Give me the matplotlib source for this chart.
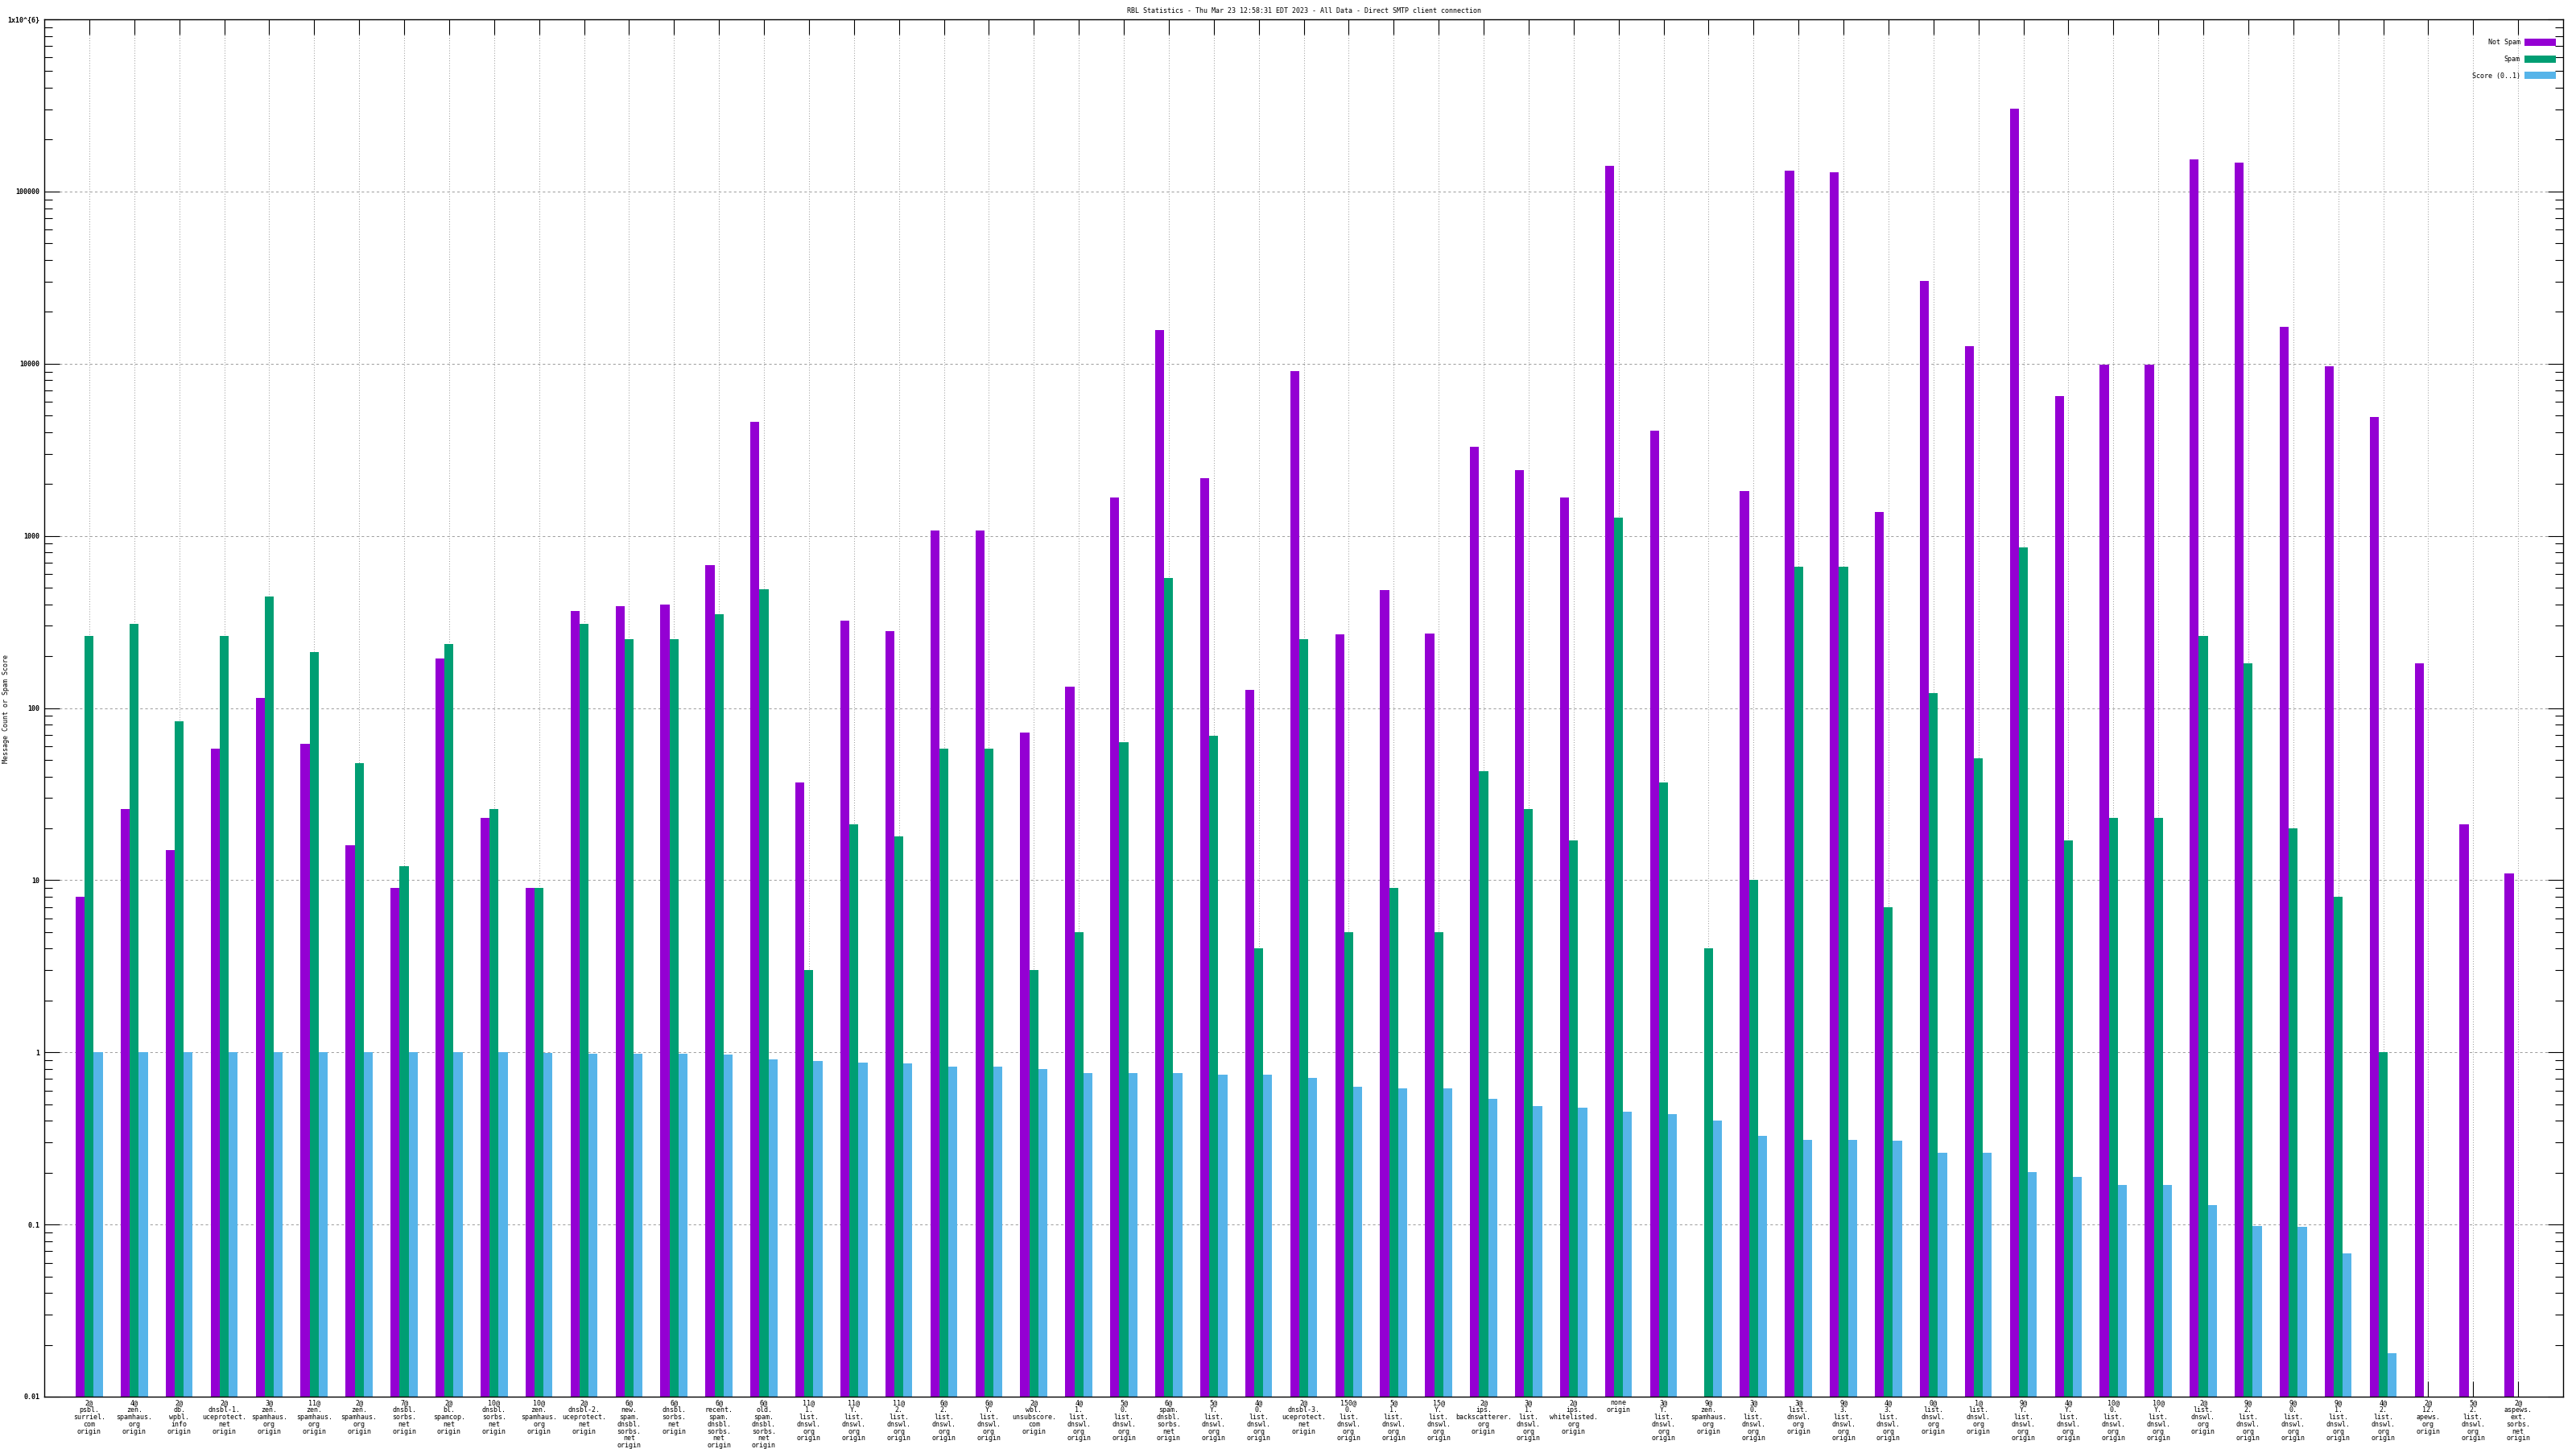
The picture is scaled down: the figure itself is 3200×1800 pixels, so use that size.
import numpy as np
import matplotlib
matplotlib.use("Agg")
import matplotlib.pyplot as plt
from matplotlib.patches import Patch
from matplotlib.ticker import LogLocator, FixedLocator, NullFormatter

plt.rcParams['font.family'] = ['DejaVu Sans Mono', 'DejaVu Sans']

title = "RBL Statistics - Thu Mar 23 12:58:31 EDT 2023 - All Data - Direct SMTP client connection"
ylabel = "Message Count or Spam Score"
series_names = ["Not Spam", "Spam", "Score (0..1)"]
series_colors = ["#9400d3", "#009e73", "#56b4e9"]

categories = [
    "2@\npsbl.\nsurriel.\ncom\norigin",
    "4@\nzen.\nspamhaus.\norg\norigin",
    "2@\ndb.\nwpbl.\ninfo\norigin",
    "2@\ndnsbl-1.\nuceprotect.\nnet\norigin",
    "3@\nzen.\nspamhaus.\norg\norigin",
    "11@\nzen.\nspamhaus.\norg\norigin",
    "2@\nzen.\nspamhaus.\norg\norigin",
    "7@\ndnsbl.\nsorbs.\nnet\norigin",
    "2@\nbl.\nspamcop.\nnet\norigin",
    "10@\ndnsbl.\nsorbs.\nnet\norigin",
    "10@\nzen.\nspamhaus.\norg\norigin",
    "2@\ndnsbl-2.\nuceprotect.\nnet\norigin",
    "6@\nnew.\nspam.\ndnsbl.\nsorbs.\nnet\norigin",
    "6@\ndnsbl.\nsorbs.\nnet\norigin",
    "6@\nrecent.\nspam.\ndnsbl.\nsorbs.\nnet\norigin",
    "6@\nold.\nspam.\ndnsbl.\nsorbs.\nnet\norigin",
    "11@\n1.\nlist.\ndnswl.\norg\norigin",
    "11@\nY.\nlist.\ndnswl.\norg\norigin",
    "11@\n2.\nlist.\ndnswl.\norg\norigin",
    "6@\n2.\nlist.\ndnswl.\norg\norigin",
    "6@\nY.\nlist.\ndnswl.\norg\norigin",
    "2@\nwbl.\nunsubscore.\ncom\norigin",
    "4@\n1.\nlist.\ndnswl.\norg\norigin",
    "5@\n0.\nlist.\ndnswl.\norg\norigin",
    "6@\nspam.\ndnsbl.\nsorbs.\nnet\norigin",
    "5@\nY.\nlist.\ndnswl.\norg\norigin",
    "4@\n0.\nlist.\ndnswl.\norg\norigin",
    "2@\ndnsbl-3.\nuceprotect.\nnet\norigin",
    "150@\n0.\nlist.\ndnswl.\norg\norigin",
    "5@\n1.\nlist.\ndnswl.\norg\norigin",
    "15@\nY.\nlist.\ndnswl.\norg\norigin",
    "2@\nips.\nbackscatterer.\norg\norigin",
    "3@\n1.\nlist.\ndnswl.\norg\norigin",
    "2@\nips.\nwhitelisted.\norg\norigin",
    "none\norigin",
    "3@\nY.\nlist.\ndnswl.\norg\norigin",
    "9@\nzen.\nspamhaus.\norg\norigin",
    "3@\n0.\nlist.\ndnswl.\norg\norigin",
    "3@\nlist.\ndnswl.\norg\norigin",
    "9@\n3.\nlist.\ndnswl.\norg\norigin",
    "4@\n3.\nlist.\ndnswl.\norg\norigin",
    "0@\nlist.\ndnswl.\norg\norigin",
    "1@\nlist.\ndnswl.\norg\norigin",
    "9@\nY.\nlist.\ndnswl.\norg\norigin",
    "4@\nY.\nlist.\ndnswl.\norg\norigin",
    "10@\n0.\nlist.\ndnswl.\norg\norigin",
    "10@\nY.\nlist.\ndnswl.\norg\norigin",
    "2@\nlist.\ndnswl.\norg\norigin",
    "9@\n2.\nlist.\ndnswl.\norg\norigin",
    "9@\n0.\nlist.\ndnswl.\norg\norigin",
    "9@\n1.\nlist.\ndnswl.\norg\norigin",
    "4@\n2.\nlist.\ndnswl.\norg\norigin",
    "2@\n12.\napews.\norg\norigin",
    "5@\n2.\nlist.\ndnswl.\norg\norigin",
    "2@\naspews.\next.\nsorbs.\nnet\norigin",
]

not_spam = [8, 26, 15, 58, 114, 62, 16, 9, 193, 23,
            9, 366, 391, 399, 676, 4570, 37, 321, 281, 1074,
            1074, 72, 133, 1666, 15670, 2170, 127, 9040, 269, 486,
            272, 3290, 2420, 1666, 141000, 4100, 0, 1820, 132000, 129000,
            1370, 30300, 12600, 304000, 6500, 9860, 9860, 154000, 147000, 16400,
            9660, 4890, 181, 21, 11]

spam = [262, 307, 84, 263, 446, 211, 48, 12, 236, 26,
        9, 307, 252, 250, 351, 487, 3, 21, 18, 58,
        58, 3, 5, 63, 568, 69, 4, 250, 5, 9,
        5, 43, 26, 17, 1280, 37, 4, 10, 662, 662,
        7, 122, 51, 861, 17, 23, 23, 262, 181, 20,
        8, 1, 0, 0, 0]

score = [1.0, 1.0, 1.0, 1.0, 1.0, 1.0, 1.0, 1.0, 1.0, 1.0,
         0.99, 0.98, 0.98, 0.98, 0.97, 0.91, 0.89, 0.87, 0.86, 0.83,
         0.83, 0.80, 0.76, 0.76, 0.76, 0.74, 0.74, 0.71, 0.63, 0.62,
         0.62, 0.538, 0.489, 0.479, 0.453, 0.439, 0.402, 0.328, 0.311, 0.311,
         0.308, 0.262, 0.262, 0.202, 0.188, 0.170, 0.170, 0.130, 0.098, 0.097,
         0.068, 0.0179, 0, 0, 0]

ytick_values = [0.01, 0.1, 1, 10, 100, 1000, 10000, 100000, 1000000]
ytick_labels = ["0.01", "0.1", "1", "10", "100", "1000", "10000", "100000", "1x10^{6}"]

W, H = 3200, 1800
fig = plt.figure(figsize=(W / 100, H / 100), dpi=100)
L, R, T, B = 55, 3184, 24, 1735
ax = fig.add_axes([L / W, 1 - B / H, (R - L) / W, (B - T) / H])

x = np.arange(len(categories))
bw = 0.2
ax.set_yscale('log')
for off, vals, col, name in zip([-bw, 0, bw], [not_spam, spam, score], series_colors, series_names):
    ax.bar(x + off, vals, bw, color=col, linewidth=0, label=name, zorder=2)

ax.set_xlim(-1, len(categories))
ax.set_ylim(ytick_values[0], ytick_values[-1])

ax.set_axisbelow(True)
ax.yaxis.set_major_locator(FixedLocator(ytick_values))
ax.set_yticklabels(ytick_labels, fontsize=6, fontweight='bold')
ax.yaxis.set_minor_locator(LogLocator(base=10, subs=np.arange(2, 10), numticks=100))
ax.yaxis.set_minor_formatter(NullFormatter())
ax.set_xticks(x)
ax.set_xticklabels(categories, fontsize=6, linespacing=0.97)

ax.tick_params(axis='both', which='major', direction='in', length=13.7, width=0.8,
               top=True, right=True, pad=2.5)
ax.tick_params(axis='y', which='minor', direction='in', length=7.2, width=0.8, right=True)
ax.tick_params(axis='y', which='major', pad=4)

ax.yaxis.grid(True, which='major', color='#a0a0a0', linestyle=(0, (3, 3)), linewidth=0.75)
ax.xaxis.grid(True, which='major', color='#a0a0a0', linestyle=(0, (1, 2)), linewidth=0.75)
for s in ax.spines.values():
    s.set_linewidth(1.0)

ax.set_title(title, fontsize=6, pad=6)
fig.text(8 / W, 1 - 880 / H, ylabel, rotation=90, fontsize=6, ha='center', va='center')

handles = [Patch(facecolor=c, edgecolor='none', label=n) for c, n in zip(series_colors, series_names)]
ax.legend(handles=handles, loc='upper right', bbox_to_anchor=(3175 / W, 1 - 48 / H),
          bbox_transform=fig.transFigure, frameon=False, markerfirst=False,
          fontsize=6, handlelength=4.7, handleheight=1.32, labelspacing=1.35,
          handletextpad=0.6, borderpad=0, borderaxespad=0)

fig.savefig("out.png", dpi=100)
